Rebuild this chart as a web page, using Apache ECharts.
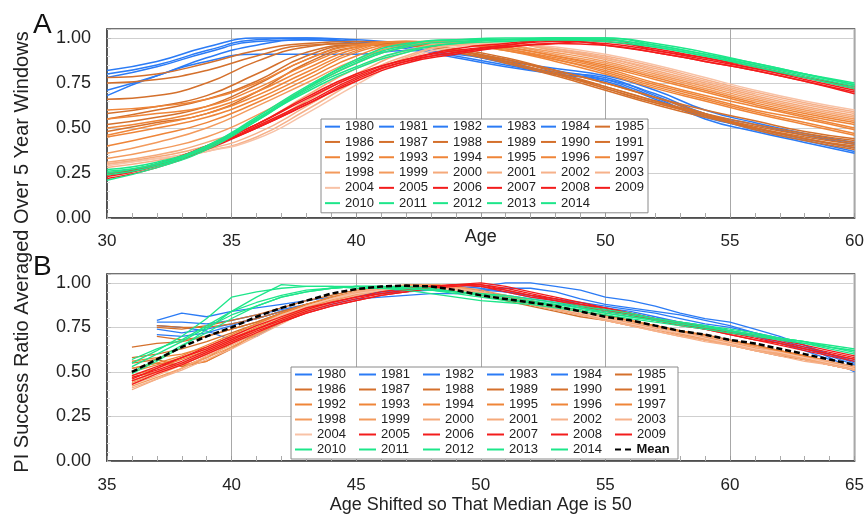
<!DOCTYPE html>
<html>
<head>
<meta charset="utf-8">
<script src="https://cdn.jsdelivr.net/npm/echarts@6/dist/echarts.min.js"></script>
<style>
  html, body { margin: 0; padding: 0; background: #fff; }
  #chart { width: 867px; height: 515px; }
</style>
</head>
<body>
<div id="chart"></div>
<script>
const FONT = '"Liberation Sans", Arial, sans-serif'

// years per colour group
const blueYears = ['1980', '1981', '1982', '1983', '1984']
const darkYears = ['1985', '1986', '1987', '1988', '1989', '1990', '1991']
const midYears = ['1992', '1993', '1994', '1995', '1996', '1997']
const lightYears = ['1998', '1999', '2000', '2001', '2002', '2003', '2004']
const redYears = ['2005', '2006', '2007', '2008', '2009']
const greenYears = ['2010', '2011', '2012', '2013', '2014']

// panel A: age
const ageA = [30, 32, 34, 36, 38, 40, 42, 44, 46, 48, 50, 52, 54, 56, 58, 60]
const blueA = [
  [.80, .85, .93, .99, 1.0, .98, .96, .92, .86, .81, .78, .68, .57, .49, .43, .37],
  [.82, .87, .95, 1.0, 1.0, .99, .97, .93, .88, .82, .77, .67, .55, .48, .42, .36],
  [.78, .84, .92, .98, .99, .98, .95, .90, .85, .80, .76, .66, .56, .50, .44, .39],
  [.71, .79, .89, .96, .99, .97, .94, .89, .84, .80, .77, .69, .58, .52, .46, .41],
  [.68, .79, .87, .91, .91, .91, .93, .91, .87, .83, .79, .71, .60, .53, .47, .42]
]
const darkA = [
  [.78, .80, .86, .93, .97, .98, .97, .93, .88, .82, .75, .67, .58, .50, .44, .39],
  [.75, .77, .82, .90, .96, .97, .96, .92, .87, .80, .73, .65, .57, .49, .43, .38],
  [.66, .68, .75, .87, .95, .97, .96, .93, .87, .80, .72, .64, .57, .50, .44, .40],
  [.58, .62, .68, .80, .92, .96, .96, .92, .86, .79, .71, .63, .56, .50, .45, .41],
  [.55, .60, .66, .76, .90, .96, .96, .93, .87, .80, .72, .64, .57, .51, .46, .42],
  [.52, .56, .62, .74, .88, .96, .97, .93, .88, .81, .73, .65, .58, .52, .47, .43],
  [.48, .53, .58, .70, .86, .95, .97, .94, .89, .82, .75, .67, .60, .54, .48, .44]
]
const midA = [
  [.60, .62, .66, .75, .88, .96, .98, .97, .93, .87, .80, .72, .65, .58, .52, .46],
  [.55, .58, .62, .72, .85, .95, .98, .97, .93, .88, .81, .73, .66, .59, .53, .47],
  [.50, .54, .60, .70, .83, .94, .98, .97, .94, .88, .82, .74, .67, .60, .55, .49],
  [.46, .52, .58, .68, .81, .93, .98, .98, .94, .89, .83, .75, .68, .62, .56, .50],
  [.45, .50, .56, .66, .79, .92, .97, .98, .95, .90, .84, .77, .70, .63, .57, .52],
  [.40, .46, .53, .64, .77, .90, .97, .98, .95, .90, .85, .78, .71, .64, .58, .53]
]
const lightA = [
  [.36, .42, .50, .62, .75, .88, .96, .98, .96, .91, .86, .79, .72, .65, .59, .54],
  [.33, .38, .45, .57, .72, .86, .95, .98, .96, .92, .87, .80, .73, .66, .60, .55],
  [.31, .35, .42, .52, .68, .83, .93, .97, .97, .93, .88, .81, .74, .67, .61, .56],
  [.30, .34, .40, .50, .65, .80, .92, .97, .97, .93, .89, .82, .75, .68, .62, .57],
  [.30, .33, .38, .47, .62, .78, .90, .96, .97, .94, .89, .83, .76, .69, .63, .58],
  [.28, .32, .37, .45, .60, .76, .89, .96, .97, .94, .90, .84, .77, .70, .64, .59],
  [.29, .33, .37, .44, .58, .74, .88, .95, .97, .95, .91, .85, .78, .71, .65, .60]
]
const redA = [
  [.22, .28, .38, .50, .63, .76, .86, .91, .95, .97, .96, .92, .87, .82, .76, .70],
  [.24, .29, .39, .51, .64, .78, .87, .92, .96, .98, .97, .93, .88, .83, .77, .71],
  [.25, .30, .40, .52, .66, .79, .88, .93, .96, .99, .98, .94, .89, .84, .78, .72],
  [.23, .29, .39, .50, .63, .77, .87, .92, .95, .97, .99, .93, .89, .83, .78, .73],
  [.24, .30, .40, .52, .67, .80, .88, .94, .97, .99, .96, .92, .87, .82, .76, .69]
]
const greenA = [
  [.25, .30, .39, .55, .72, .86, .95, .98, .99, 1.0, .99, .96, .91, .85, .79, .73],
  [.26, .30, .40, .56, .73, .87, .96, .99, .99, 1.0, 1.0, .96, .91, .86, .80, .74],
  [.24, .29, .39, .54, .71, .84, .93, .97, .99, .99, .99, .95, .90, .85, .80, .75],
  [.27, .31, .40, .55, .70, .83, .92, .97, .98, .99, .98, .95, .90, .84, .78, .72],
  [.21, .28, .38, .54, .72, .88, .97, .99, 1.0, 1.0, 1.0, .97, .92, .86, .80, .74]
]

// panel B: age shifted so median age is 50
const ageB = [36, 37, 38, 39, 40, 41, 42, 43, 44, 45, 46, 47, 48, 49, 50,
  51, 52, 53, 54, 55, 56, 57, 58, 59, 60, 61, 62, 63, 64, 65]
const meanB = [.50, .57, .64, .70, .75, .81, .86, .90, .94, .965, .98, .985, .98, .96, .93,
  .91, .89, .87, .84, .81, .79, .76, .73, .71, .68, .66, .63, .60, .57, .54]
const blueB = [
  [null, .79, .83, .81, .84, .86, .88, .90, .92, .93, .94, .95, .96, .97, .98, 1.0, 1.0, .98, .96, .92, .90, .87, .83, .80, .78, .74, .70, .65, .58, .51],
  [null, .76, .75, .73, .68, .70, .78, .84, .88, .91, .92, .93, .94, .94, .96, .97, .97, .95, .91, .88, .86, .84, .82, .79, .76, .72, .68, .64, .60, .56],
  [null, .78, .78, .77, .79, .82, .85, .88, .91, .93, .95, .96, .97, .97, .96, .95, .93, .91, .89, .87, .85, .83, .80, .77, .75, .72, .69, .65, .60, .55],
  [null, .74, .72, .74, .77, .80, .84, .87, .90, .93, .95, .97, .98, .98, .97, .95, .92, .90, .88, .86, .84, .81, .78, .76, .73, .70, .67, .63, .59, .54],
  [null, .71, .70, .72, .76, .80, .84, .88, .91, .94, .96, .97, .98, .97, .95, .93, .91, .89, .86, .84, .82, .80, .77, .75, .72, .70, .66, .62, .57, .50]
]
const darkB = [
  [null, .76, .75, .75, .77, .80, .84, .88, .92, .95, .97, .98, .98, .97, .95, .92, .89, .86, .84, .82, .79, .76, .73, .71, .68, .65, .62, .59, .56, .53],
  [null, .75, .74, .76, .79, .82, .86, .90, .93, .96, .97, .98, .98, .96, .94, .91, .88, .86, .83, .80, .78, .75, .72, .70, .67, .64, .61, .58, .55, .52],
  [null, .70, .68, .70, .74, .78, .83, .87, .91, .94, .96, .97, .97, .96, .94, .91, .89, .86, .83, .81, .78, .75, .73, .70, .67, .64, .61, .58, .55, .52],
  [.55, .57, .53, .58, .66, .74, .80, .86, .90, .94, .96, .98, .98, .97, .95, .92, .89, .86, .83, .80, .77, .75, .72, .69, .66, .63, .61, .58, .55, .52],
  [.52, .55, .53, .56, .63, .72, .79, .85, .90, .93, .96, .97, .98, .97, .94, .91, .88, .85, .82, .80, .77, .74, .71, .69, .66, .63, .60, .57, .54, .51],
  [.64, .66, .67, .70, .74, .78, .83, .88, .91, .94, .96, .97, .97, .95, .93, .90, .87, .84, .81, .79, .76, .74, .71, .68, .65, .62, .59, .57, .54, .51],
  [.58, .60, .63, .67, .72, .77, .82, .87, .91, .94, .96, .98, .98, .97, .94, .91, .88, .85, .83, .80, .77, .74, .72, .69, .66, .63, .60, .57, .54, .52]
]
const midB = [
  [.56, .58, .60, .64, .70, .76, .82, .87, .91, .95, .97, .98, .99, .98, .95, .92, .89, .86, .84, .81, .78, .76, .73, .70, .67, .65, .62, .59, .56, .53],
  [.50, .54, .58, .63, .69, .75, .81, .86, .91, .94, .97, .98, .98, .97, .94, .91, .88, .86, .83, .80, .78, .75, .72, .70, .67, .64, .61, .58, .55, .52],
  [.47, .50, .54, .56, .64, .71, .78, .84, .89, .93, .96, .98, .98, .97, .95, .92, .89, .86, .84, .81, .78, .75, .72, .69, .66, .64, .61, .58, .55, .52],
  [.52, .55, .59, .65, .71, .77, .83, .88, .92, .95, .97, .98, .98, .96, .94, .91, .88, .85, .82, .80, .77, .74, .71, .68, .66, .63, .60, .58, .55, .52],
  [.45, .50, .55, .61, .67, .74, .80, .85, .90, .94, .96, .98, .98, .97, .95, .92, .89, .87, .84, .81, .79, .76, .73, .70, .67, .64, .61, .59, .56, .53],
  [.48, .52, .57, .62, .68, .74, .80, .86, .90, .94, .97, .98, .99, .98, .95, .92, .90, .87, .84, .81, .78, .76, .73, .70, .67, .64, .62, .59, .56, .53]
]
const lightB = [
  [.44, .49, .54, .60, .66, .73, .80, .86, .91, .95, .97, .99, .99, .98, .95, .92, .89, .86, .83, .80, .77, .74, .71, .68, .65, .63, .60, .57, .55, .52],
  [.42, .47, .52, .58, .64, .71, .78, .84, .89, .93, .96, .98, .99, .98, .96, .93, .90, .87, .84, .81, .78, .75, .72, .69, .66, .63, .60, .58, .55, .53],
  [.40, .46, .52, .59, .65, .72, .79, .85, .90, .94, .97, .98, .98, .97, .95, .92, .89, .86, .83, .80, .77, .74, .71, .68, .66, .63, .60, .57, .54, .51],
  [.43, .48, .54, .60, .67, .74, .81, .87, .91, .95, .97, .98, .98, .96, .93, .91, .88, .85, .82, .79, .76, .73, .70, .68, .65, .62, .60, .57, .54, .51],
  [.41, .46, .51, .57, .63, .70, .77, .84, .89, .93, .96, .98, .98, .97, .95, .92, .89, .86, .84, .81, .78, .75, .72, .70, .67, .64, .61, .58, .56, .53],
  [.45, .50, .55, .61, .67, .74, .81, .87, .91, .95, .97, .98, .98, .96, .94, .91, .88, .85, .82, .79, .76, .73, .70, .67, .65, .62, .59, .56, .54, .51],
  [.43, .49, .55, .62, .69, .76, .82, .87, .91, .94, .96, .97, .97, .96, .94, .91, .89, .86, .83, .80, .77, .74, .72, .69, .66, .63, .61, .58, .55, .52]
]
const redB = [
  [.45, .50, .55, .61, .67, .73, .78, .83, .87, .90, .93, .95, .97, .98, .99, .97, .94, .91, .88, .85, .82, .79, .77, .74, .72, .69, .66, .63, .60, .57],
  [.46, .52, .58, .63, .69, .74, .80, .85, .89, .92, .95, .97, .98, .99, .98, .96, .93, .90, .87, .84, .82, .79, .76, .74, .71, .68, .65, .62, .59, .56],
  [.48, .53, .58, .64, .70, .76, .81, .86, .89, .92, .94, .96, .98, .99, .99, .96, .93, .91, .88, .86, .83, .80, .78, .75, .73, .71, .68, .65, .62, .59],
  [.43, .49, .54, .60, .66, .72, .78, .83, .87, .90, .93, .95, .97, .99, 1.0, .98, .95, .92, .89, .86, .83, .80, .77, .75, .72, .70, .67, .64, .61, .58],
  [.47, .51, .56, .62, .68, .74, .79, .84, .88, .91, .94, .96, .98, .99, .98, .95, .92, .90, .87, .85, .82, .79, .77, .74, .71, .68, .66, .63, .60, .57]
]
const greenB = [
  [.49, .56, .64, .74, .84, .89, .93, .96, .97, .98, .98, .98, .97, .95, .93, .91, .89, .88, .86, .84, .82, .80, .78, .76, .73, .71, .69, .67, .65, .63],
  [.53, .60, .67, .75, .82, .87, .92, .95, .97, .98, .98, .97, .96, .95, .94, .93, .91, .89, .87, .85, .83, .80, .78, .76, .74, .72, .69, .67, .64, .61],
  [.55, .62, .70, .80, .92, .95, .97, .98, .98, .98, .97, .96, .94, .92, .90, .89, .88, .86, .84, .82, .80, .78, .76, .74, .72, .70, .68, .66, .63, .60],
  [.57, .63, .68, .76, .84, .92, .99, .98, .98, .97, .97, .97, .96, .95, .94, .92, .90, .88, .86, .83, .81, .79, .77, .75, .73, .71, .69, .67, .64, .62],
  [.50, .57, .65, .72, .80, .87, .92, .95, .97, .98, .98, .97, .96, .94, .92, .90, .89, .87, .85, .83, .81, .79, .77, .75, .73, .71, .68, .66, .64, .62]
]

const groups = [
  { years: blueYears, a: blueA, b: blueB, colors: ['#2b7bf5'] },
  { years: darkYears, a: darkA, b: darkB, colors: ['#d4702c'] },
  { years: midYears, a: midA, b: midB, colors: ['#ef8538'] },
  { years: lightYears, a: lightA, b: lightB,
    colors: ['#f39a5c', '#f39a5c', '#f5a97a', '#f5a97a', '#f6b18a', '#f6b18a', '#f8c2a6'] },
  { years: redYears, a: redA, b: redB, colors: ['#f31c1c'] },
  { years: greenYears, a: greenA, b: greenB, colors: ['#1de68a'] }
]

const series = []
const allYears = []
groups.forEach(g => {
  g.years.forEach((yr, i) => {
    const color = g.colors[Math.min(i, g.colors.length - 1)]
    allYears.push(yr)
    series.push({
      name: yr, type: 'line', xAxisIndex: 0, yAxisIndex: 0,
      data: ageA.map((x, j) => [x, g.a[i][j]]),
      smooth: true, symbol: 'none',
      lineStyle: { width: 1.5, color: color }, itemStyle: { color: color }
    })
    series.push({
      name: yr, type: 'line', xAxisIndex: 1, yAxisIndex: 1,
      data: ageB.map((x, j) => [x, g.b[i][j]]),
      symbol: 'none',
      lineStyle: { width: 1.3, color: color }, itemStyle: { color: color }
    })
  })
})
series.push({
  name: 'Mean', type: 'line', xAxisIndex: 1, yAxisIndex: 1, z: 5,
  data: ageB.map((x, j) => [x, meanB[j]]),
  symbol: 'none',
  lineStyle: { width: 2.5, color: '#000', type: [6, 3] }, itemStyle: { color: '#000' }
})

const LINE_ICON = 'rect'
const DASH_ICON = 'path://M0,0H6V2H0Z M10,0H16V2H10Z'

function makeX(idx, min, max, name, nameGap, margin) {
  return {
    gridIndex: idx, type: 'value', min: min, max: max, interval: 5,
    name: name, nameLocation: 'middle', nameGap: nameGap, nameMoveOverlap: false,
    nameTextStyle: { fontSize: 18, color: '#222', fontFamily: FONT },
    axisLine: { show: true, lineStyle: { color: '#444', width: 1.5 } },
    axisTick: { inside: true, length: 5, lineStyle: { color: '#999' } },
    minorTick: { show: true, splitNumber: 5, length: 5, lineStyle: { color: '#aaa' } },
    splitLine: { lineStyle: { color: '#a8a8a8' } },
    axisLabel: {
      fontSize: 17, color: '#222', margin: margin, fontFamily: FONT,
      formatter: v => (idx === 0 && v === 45) ? '' : String(v)
    }
  }
}
function makeY(idx) {
  return {
    gridIndex: idx, type: 'value', min: 0, max: 1.05, interval: 0.25,
    axisLine: { show: true, lineStyle: { color: '#444', width: 1.5 } },
    axisTick: { inside: true, length: 4, lineStyle: { color: '#bbb' } },
    minorTick: { show: true, splitNumber: 5, length: 3, lineStyle: { color: '#ddd' } },
    splitLine: { lineStyle: { color: '#cfcfcf' } },
    axisLabel: {
      fontSize: 18, color: '#222', margin: 16, fontFamily: FONT, showMaxLabel: false,
      formatter: v => v.toFixed(2)
    }
  }
}
function makeLegend(names, left, top, itemWidth, textWidth, lineHeight, width) {
  return {
    data: names.map(n => ({ name: n, icon: n === 'Mean' ? DASH_ICON : LINE_ICON })),
    left: left, top: top, width: width, orient: 'horizontal',
    itemWidth: itemWidth, itemHeight: 2, itemGap: 2, padding: [1, 1, 3, 4],
    backgroundColor: '#fff', borderColor: '#8a8a8a', borderWidth: 1,
    selectedMode: false,
    formatter: n => n === 'Mean' ? '{m|Mean}' : n,
    textStyle: {
      fontSize: 13, color: '#222', fontFamily: FONT, width: textWidth, lineHeight: lineHeight,
      rich: { m: { fontSize: 13, fontWeight: 'bold', color: '#111', fontFamily: FONT } }
    }
  }
}

const chart = echarts.init(document.getElementById('chart'), null, { renderer: 'canvas' })
chart.setOption({
  animation: false,
  backgroundColor: '#fff',
  textStyle: { fontFamily: FONT },
  grid: [
    { left: 107, top: 29, width: 750, height: 189, show: true, borderColor: '#444', borderWidth: 1.5 },
    { left: 107, top: 274, width: 750, height: 189, show: true, borderColor: '#444', borderWidth: 1.5 }
  ],
  xAxis: [
    makeX(0, 30, 60, 'Age', 10, 15),
    makeX(1, 35, 65, 'Age Shifted so That Median Age is 50', 35, 16)
  ],
  yAxis: [makeY(0), makeY(1)],
  legend: [
    makeLegend(allYears, 321, 119, 15, 32, 13.3, 336),
    makeLegend(allYears.concat(['Mean']), 291, 367, 17, 40, 12.8, 396)
  ],
  graphic: [
    { type: 'text', left: 33, top: 11, style: { text: 'A', fontSize: 28, fill: '#111', fontFamily: FONT } },
    { type: 'text', left: 33, top: 253, style: { text: 'B', fontSize: 28, fill: '#111', fontFamily: FONT } },
    {
      type: 'text', x: 22, y: 252, rotation: Math.PI / 2,
      style: {
        text: 'PI Success Ratio Averaged Over 5 Year Windows', fontSize: 20, fill: '#222',
        fontFamily: FONT, align: 'center', verticalAlign: 'middle'
      }
    }
  ],
  series: series
})
</script>
</body>
</html>
